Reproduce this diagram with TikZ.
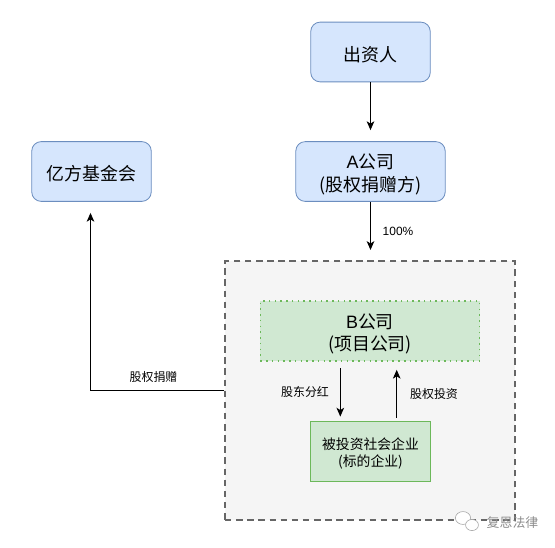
\documentclass[tikz,border=0pt]{standalone}
\usepackage{fontspec}
\setmainfont{Noto Sans CJK SC}
\newfontfamily\latinfont{Liberation Sans}
\usepackage{tikz}
\usetikzlibrary{arrows.meta,shapes.geometric}

\newcommand{\headroom}[1]{\rule{0pt}{#1}}

\definecolor{bluefill}{HTML}{D6E6FD}
\definecolor{blueline}{HTML}{6C8EBF}
\definecolor{greenfill}{HTML}{D0E8D2}
\definecolor{brightline}{HTML}{6CB85A}
\definecolor{outerfill}{HTML}{F5F5F5}
\definecolor{outerline}{HTML}{666666}

\tikzset{
  party/.style={draw=blueline,fill=bluefill,rounded corners=8pt,line width=0.7pt,align=center,
    minimum height=51pt,inner sep=0pt,font=\fontsize{15.3}{19}\selectfont},
  flow/.style={-{Stealth[length=7.5pt,width=6.5pt,inset=2pt]},line width=0.7pt},
  note/.style={inner sep=0pt,font=\fontsize{10.2}{12}\selectfont}
}

\begin{document}
\begin{tikzpicture}[x=0.03cm,y=-0.03cm]
\useasboundingbox (0,0) rectangle (555,547);

\node[draw=outerline,fill=outerfill,dashed,dash pattern=on 5.5pt off 4pt,line width=1.3pt,
  minimum width=247.5pt,minimum height=221pt,inner sep=0pt] (outer) at (370,390.7) {};

\node[party,minimum width=102pt] (investor) at (370.5,52) {\headroom{16.8pt}出资人};
\node[party,minimum width=127.5pt] (donor) at (370.5,171.5) {\headroom{17.5pt}{\latinfont A}公司\\(股权捐赠方)};
\node[party,minimum width=102pt] (fund) at (91.5,171.5) {\headroom{16.8pt}亿方基金会};

\node[draw=brightline,fill=greenfill,dash pattern=on 1.3pt off 3.6pt,line width=1.3pt,align=center,minimum width=187pt,
  minimum height=51pt,inner sep=0pt,font=\fontsize{15.3}{19}\selectfont] (project) at (370,331) {\headroom{17.5pt}{\latinfont B}公司\\(项目公司)};
\node[draw=brightline,fill=greenfill,line width=0.7pt,align=center,minimum width=102pt,minimum height=51pt,
  inner sep=0pt,font=\fontsize{11.8}{15}\selectfont] (target) at (370.5,451.5) {\headroom{13.5pt}被投资社会企业\\(标的企业)};

\coordinate (divx) at (340.3,0);
\coordinate (invx) at (396.7,0);
\coordinate (turn) at (90.5,390.7);

\draw[flow,shorten >=9.5pt] (investor) -- (donor);
\draw[flow,shorten >=9pt] (donor) -- (outer.north -| donor);
\draw[flow,shorten >=9.5pt] (outer.west |- turn) -- (turn) -- (turn |- fund.south);
\draw[flow,shorten <=5.5pt,shorten >=4pt] (divx |- project.south) -- (divx |- target.north);
\draw[flow,shorten <=3pt,shorten >=7pt] (invx |- target.north) -- (invx |- project.south);

\node[note] (pct) at (398,231.5) {\latinfont 100\%};
\node[note] (gift) at (153.5,376.5) {股权捐赠};
\node[note] (divlabel) at (305,392) {股东分红};
\node[note] (invlabel) at (434,394) {股权投资};

% watermark
\node[inner sep=0pt,text=black!45,font=\fontsize{11}{13}\selectfont] (mark) at (512.5,522.5) {复恩法律};
\node[ellipse,draw=black!35,fill=white,line width=0.5pt,minimum width=13pt,minimum height=11pt,inner sep=0pt] (bubbleA) at (463,518) {};
\node[ellipse,draw=black!35,fill=white,line width=0.5pt,minimum width=11pt,minimum height=9.5pt,inner sep=0pt] (bubbleB) at (472,525) {};
\end{tikzpicture}
\end{document}
